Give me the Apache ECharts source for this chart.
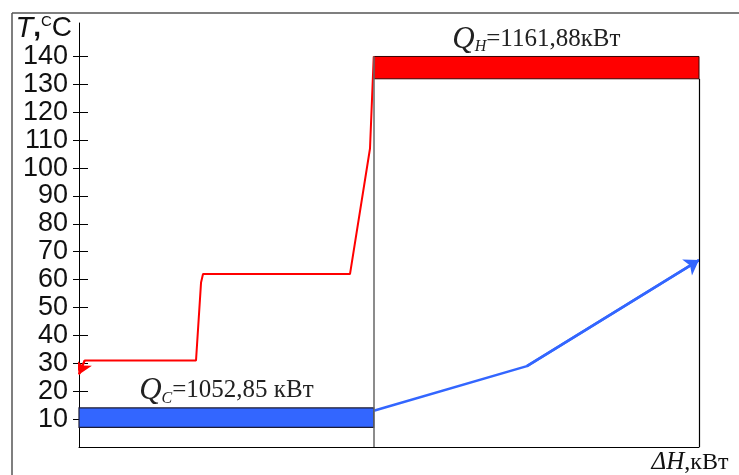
<!DOCTYPE html>
<html>
<head>
<meta charset="utf-8">
<script src="https://cdn.jsdelivr.net/npm/echarts@6/dist/echarts.min.js"></script>
<style>html,body{margin:0;padding:0;background:#fff;}#c{width:739px;height:475px;}</style>
</head>
<body>
<div id="c"></div>
<script>
// ---- data ----
var Q_C = 1052.85;            // kW, cold utility
var Q_H = 1161.88;            // kW, hot utility
var xTotal = Q_C + Q_H;       // kW, axis end
var yTicks = [10,20,30,40,50,60,70,80,90,100,110,120,130,140];
// hot composite curve (kW, °C)
var hotX = [1052.85, 1039.5, 968, 443, 436, 418, 20, 0];
var hotT = [140, 107, 62, 62, 59, 31, 31, 26];
// cold composite curve (kW, °C)
var coldX = [1052.85, 1600, 2214.73];
var coldT = [13, 29, 67];
// utility bars (temperature bands)
var hotBar = [132, 140];
var coldBar = [7, 14];
var labelQH = '1161,88';
var labelQC = '1052,85';

function zip(a, b) { return a.map(function (v, i) { return [v, b[i]]; }); }
function lastSeg(a, b) { var n = a.length; return [[a[n - 2], b[n - 2]], [a[n - 1], b[n - 1]]]; }

var chart = echarts.init(document.getElementById('c'), null, {renderer: 'canvas'});
var serif = 'Liberation Serif';
chart.setOption({
  animation: false,
  backgroundColor: '#fff',
  grid: {left: 79, right: 40, top: 23, bottom: 26},
  xAxis: {
    type: 'value', min: 0, max: xTotal,
    axisLine: {show: true, lineStyle: {color: '#000', width: 1}},
    axisTick: {show: false}, axisLabel: {show: false}, splitLine: {show: false},
    name: '{d|ΔH}{n|,кВт}',
    nameLocation: 'end', nameGap: -9,
    nameTextStyle: {
      align: 'center', verticalAlign: 'top', padding: [3, 0, 0, 0],
      rich: {
        d: {fontFamily: serif, fontStyle: 'italic', fontSize: 25, color: '#111'},
        n: {fontFamily: serif, fontSize: 24, color: '#111'}
      }
    }
  },
  yAxis: [{
    type: 'value', min: 0, max: 152, interval: 10,
    axisLine: {show: true, lineStyle: {color: '#000', width: 1}},
    axisTick: {show: true, inside: false, length: 6, lineStyle: {color: '#000'}, customValues: yTicks},
    axisLabel: {show: true, customValues: yTicks, margin: 11, fontFamily: 'Liberation Sans', fontSize: 27, color: '#111'},
    splitLine: {show: false},
    name: '{i|T}{c|,}{s|C}{b|C}',
    nameLocation: 'end', nameGap: -9,
    nameTextStyle: {
      align: 'right', verticalAlign: 'middle', padding: [0, 7, 0, 0],
      rich: {
        i: {fontFamily: 'Liberation Sans', fontStyle: 'italic', fontSize: 29, color: '#111'},
        c: {fontFamily: 'Liberation Sans', fontWeight: 'bold', fontSize: 28, color: '#111'},
        s: {fontFamily: 'Liberation Sans', fontSize: 15, color: '#111', verticalAlign: 'top'},
        b: {fontFamily: 'Liberation Sans', fontSize: 28, color: '#111'}
      }
    }
  }, {
    type: 'value', min: 0, max: 152, interval: 10, position: 'left',
    axisLine: {show: false},
    axisTick: {show: true, inside: true, length: 9, lineStyle: {color: '#000'}, customValues: yTicks},
    axisLabel: {show: false}, splitLine: {show: false}
  }],
  series: [{
    type: 'line', data: [], silent: true,
    markArea: {
      silent: true,
      data: [
        [{coord: [Q_C, hotBar[0]], itemStyle: {color: '#ff0000', borderColor: '#3a0000', borderWidth: 1},
          label: {show: true, position: 'top', distance: 1,
            formatter: '{q|Q}{s|H}{t|=' + labelQH + 'кВт}'}},
         {coord: [xTotal, hotBar[1]]}],
        [{coord: [0, coldBar[0]], itemStyle: {color: '#3366ff', borderColor: '#1a1a33', borderWidth: 1.2},
          label: {show: true, position: 'top', distance: 1,
            formatter: '{q|Q}{s|C}{t|=' + labelQC + ' кВт}'}},
         {coord: [Q_C, coldBar[1]]}]
      ],
      label: {
        rich: {
          q: {fontFamily: serif, fontStyle: 'italic', fontSize: 31, color: '#222'},
          s: {fontFamily: serif, fontStyle: 'italic', fontSize: 16, color: '#222', verticalAlign: 'bottom'},
          t: {fontFamily: serif, fontSize: 25, color: '#222'}
        }
      }
    },
    markLine: {
      silent: true, symbol: 'none', label: {show: false},
      data: [
        [{coord: [Q_C, 0], lineStyle: {color: '#666', width: 1.5, type: 'solid'}}, {coord: [Q_C, hotBar[1]]}],
        [{coord: [xTotal, 0], lineStyle: {color: '#000', width: 1.2, type: 'solid'}}, {coord: [xTotal, hotBar[0]]}]
      ]
    }
  }, {
    type: 'line', silent: true, showSymbol: false, symbol: 'none',
    lineStyle: {color: '#ff0000', width: 2},
    data: zip(hotX, hotT)
  }, {
    type: 'line', silent: true, showSymbol: false, symbol: 'none',
    lineStyle: {color: '#3366ff', width: 2.5},
    data: zip(coldX, coldT)
  }, {
    type: 'lines', coordinateSystem: 'cartesian2d', silent: true,
    symbol: ['none', 'arrow'], symbolSize: 13,
    lineStyle: {color: '#ff0000', width: 2, opacity: 1},
    data: [{coords: lastSeg(hotX, hotT)}]
  }, {
    type: 'lines', coordinateSystem: 'cartesian2d', silent: true,
    symbol: ['none', 'arrow'], symbolSize: 14,
    lineStyle: {color: '#3366ff', width: 2.5, opacity: 1},
    data: [{coords: lastSeg(coldX, coldT)}]
  }],
  graphic: [
    {type: 'line', shape: {x1: 12, y1: 13, x2: 739, y2: 13}, style: {stroke: '#555', lineWidth: 1.5}, silent: true},
    {type: 'line', shape: {x1: 12, y1: 13, x2: 12, y2: 475}, style: {stroke: '#555', lineWidth: 1.5}, silent: true}
  ]
});
</script>
</body>
</html>
